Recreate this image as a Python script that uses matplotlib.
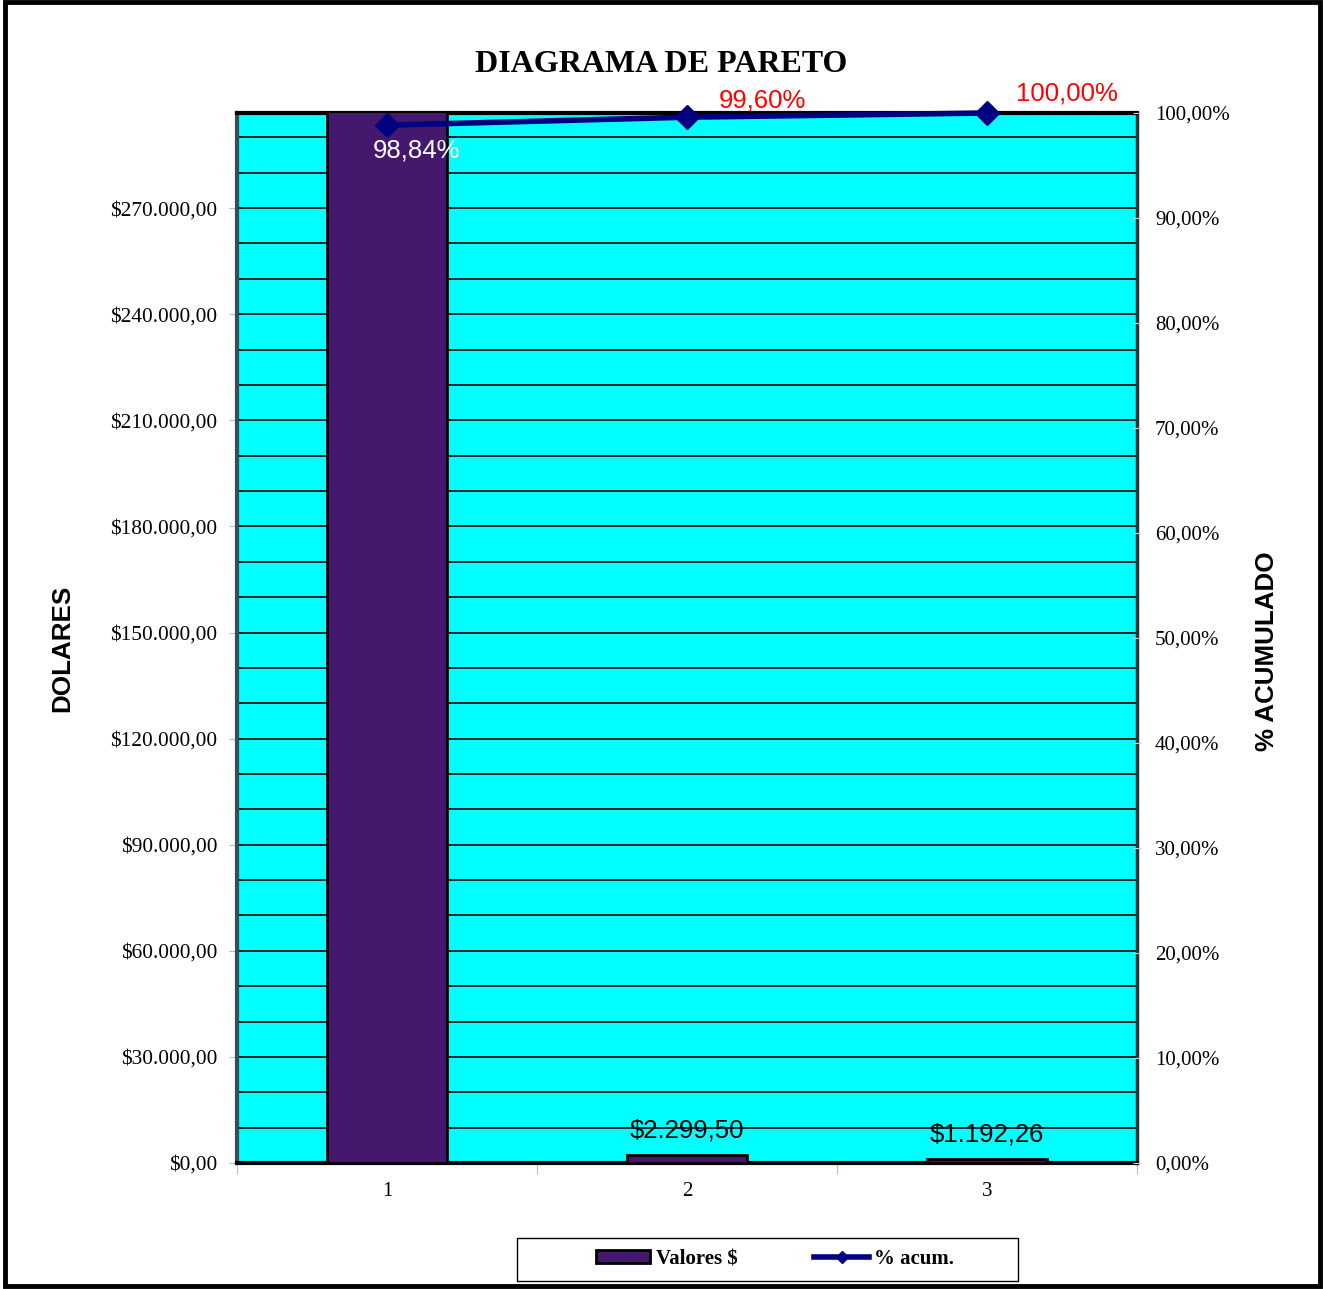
import matplotlib
matplotlib.use("Agg")
import matplotlib.pyplot as plt
from matplotlib.patches import Rectangle, Patch
from matplotlib.lines import Line2D
from matplotlib.ticker import MultipleLocator, FuncFormatter

# data
categories = ["1", "2", "3"]
valores = [297520.0, 2299.50, 1192.26]
pct_acum = [0.9884, 0.9960, 1.0]
pct_labels = ["98,84%", "99,60%", "100,00%"]
valor_labels = ["", "$2.299,50", "$1.192,26"]

SERIF = "Liberation Serif"
SANS = "Liberation Sans"
NAVY = "#000080"
CYAN = "#00FFFF"
PURPLE = "#43186D"


def money(v, pos=None):
    s = f"{v:,.2f}"
    s = s.replace(",", "X").replace(".", ",").replace("X", ".")
    return "$" + s


def pct(v, pos=None):
    return f"{v * 100:.2f}%".replace(".", ",")


W, H = 1323, 1289
fig = plt.figure(figsize=(W / 100, H / 100), dpi=100)
ax = fig.add_axes([237 / W, 126 / H, 900 / W, 1050 / H])
ax.set_facecolor(CYAN)

x = list(range(len(categories)))
ax.bar(x, valores, width=0.4, color=PURPLE, edgecolor="black", linewidth=2, zorder=3)

ax.set_xlim(-0.5, 2.5)
ax.set_ylim(0, 296900)
ax.yaxis.set_major_locator(MultipleLocator(30000))
ax.yaxis.set_minor_locator(MultipleLocator(10000))
ax.yaxis.set_major_formatter(FuncFormatter(money))
ax.grid(axis="y", which="both", color="black", linewidth=1.2, zorder=1)
ax.set_axisbelow(True)

ax.set_xticks([-0.5, 0.5, 1.5, 2.5], minor=False)
ax.set_xticklabels([])
ax.set_xticks(x, minor=True)
ax.set_xticklabels(categories, minor=True, fontfamily=SERIF, fontsize=15)
ax.tick_params(axis="x", which="major", length=8, color="#9ec3e6", direction="out")
ax.tick_params(axis="x", which="minor", length=0, pad=14)
ax.tick_params(axis="y", which="major", length=6, color="#9ec3e6", direction="out",
               labelsize=15.4, pad=8)
ax.tick_params(axis="y", which="minor", length=0)
for lab in ax.get_yticklabels():
    lab.set_fontfamily(SERIF)

for side in ["top", "bottom"]:
    ax.spines[side].set_color("black")
    ax.spines[side].set_linewidth(3)
ax.spines["left"].set_color("#404850")
ax.spines["left"].set_linewidth(3)
ax.spines["right"].set_color("#303030")
ax.spines["right"].set_linewidth(2.5)

for xi, v, lab in zip(x, valores, valor_labels):
    if lab:
        ax.annotate(lab, (xi, v), xytext=(0, 12), textcoords="offset pixels",
                    ha="center", va="bottom", fontfamily=SANS, fontsize=18.5,
                    color="black", zorder=5)

ax2 = ax.twinx()
ax2.set_ylim(0, 1)
ax2.yaxis.set_major_locator(MultipleLocator(0.1))
ax2.yaxis.set_major_formatter(FuncFormatter(pct))
ax2.tick_params(axis="y", length=6, color="#d0d0d0", direction="inout",
                labelsize=15, pad=10)
for lab in ax2.get_yticklabels():
    lab.set_fontfamily(SERIF)
for s in ax2.spines.values():
    s.set_visible(False)

ax2.plot(x, pct_acum, color=NAVY, linewidth=4, marker="D", markersize=12.5,
         clip_on=False, zorder=6)

offsets = [(30, -25), (75, 17), (80, 20)]
colors = ["white", "red", "red"]
for xi, p, lab, off, c in zip(x, pct_acum, pct_labels, offsets, colors):
    ax2.annotate(lab, (xi, p), xytext=off, textcoords="offset pixels",
                 ha="center", va="center", fontfamily=SANS, fontsize=18.5,
                 color=c, zorder=7, annotation_clip=False)

fig.text(0.5, 1 - 65 / H, "DIAGRAMA DE PARETO", ha="center", va="center",
         fontfamily=SERIF, fontweight="bold", fontsize=23)
fig.text(62 / W, 1 - 648 / H, "DOLARES", rotation=90, ha="center",
         va="center", fontfamily=SANS, fontweight="bold", fontsize=18.7)
fig.text(1267 / W, 1 - 651 / H, "% ACUMULADO", rotation=90, ha="center",
         va="center", fontfamily=SANS, fontweight="bold", fontsize=18.7)

handles = [
    Patch(facecolor=PURPLE, edgecolor="black", linewidth=2, label="Valores $"),
    Line2D([0], [0], color=NAVY, linewidth=4, marker="D", markersize=6,
           label="% acum."),
]
fig.legend(handles=handles, loc="center", bbox_to_anchor=(775 / W, 1 - 1259 / H),
           ncol=2, frameon=False,
           prop={"family": SERIF, "weight": "bold", "size": 15},
           handlelength=2.6, handleheight=0.6, columnspacing=3.7,
           handletextpad=0.25)
fig.patches.append(Rectangle((517 / W, 1 - 1281 / H), 501 / W, 43 / H,
                             transform=fig.transFigure, fill=False,
                             edgecolor="black", linewidth=1))

fig.patches.append(Rectangle((5 / W, 3 / H), 1315 / W, 1284 / H,
                             transform=fig.transFigure, fill=False,
                             edgecolor="black", linewidth=3.5))

fig.savefig("out.png", dpi=100)
